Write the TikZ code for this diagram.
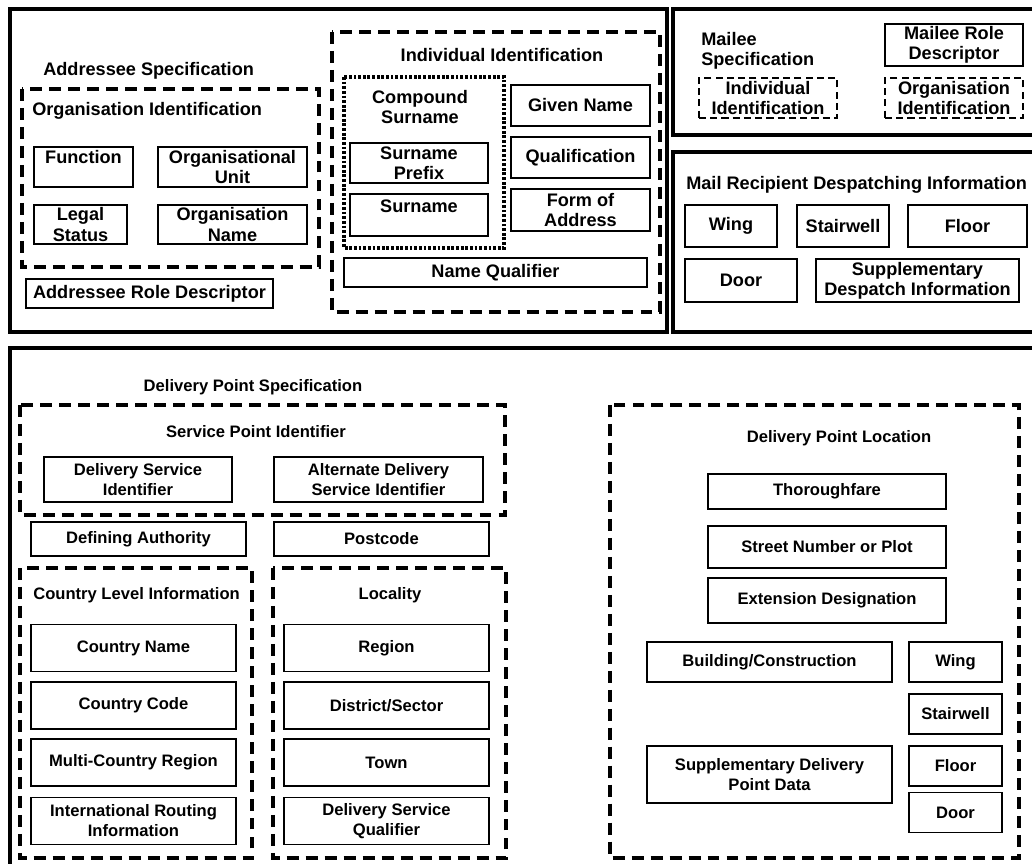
\documentclass[tikz,border=0pt]{standalone}
\usepackage{fontspec}
\setmainfont{Liberation Sans}
\newcommand\topfont{\fontsize{12.9}{14.4}\selectfont\bfseries}
\newcommand\lowfont{\fontsize{11.8}{14.2}\selectfont\bfseries}

\begin{document}
\begin{tikzpicture}[x=0.025cm,y=-0.025cm,
  frame/.style={draw=black,line width=2.8pt},
  grp/.style={draw=black,line width=2.3pt,dash pattern=on 8.5pt off 5pt},
  sgrp/.style={draw=black,line width=1.2pt,dash pattern=on 5pt off 3pt},
  dotgrp/.style={draw=black,line width=2.2pt,dash pattern=on 2pt off 1.3pt},
  box/.style={draw=black,line width=0.8pt,align=center,inner sep=1pt},
  sz/.style 2 args={minimum width=#1*0.25mm,minimum height=#2*0.25mm},
  raised/.style={text depth=#1},
  ttl/.style={inner sep=0pt,align=center}]
\useasboundingbox (0,0) rectangle (1032,863);
\clip (0,0) rectangle (1032,863);

% outer frames
\draw[frame] (10,9) rectangle (667,332);
\draw[frame] (673,9) rectangle (1040,135);
\draw[frame] (673,152) rectangle (1040,332);
\draw[frame] (10,348) rectangle (1040,870);

\begin{scope}[font=\topfont]
% addressee
\node[ttl,anchor=west] (adsp) at (43,71) {Addressee Specification};
\draw[grp] (22,89) rectangle (319,267);
\node[ttl,anchor=west] (orgid) at (32,111) {Organisation Identification};
\node[box,sz={99}{40},raised=14pt] (func) at (83.5,167) {Function};
\node[box,sz={149}{40}] (ounit) at (232.5,167) {Organisational\\Unit};
\node[box,sz={93}{39}] (legal) at (80.5,224.5) {Legal\\Status};
\node[box,sz={149}{39}] (oname) at (232.5,224.5) {Organisation\\Name};
\node[box,sz={247}{29}] (adrole) at (149.5,293.5) {Addressee Role Descriptor};

% individual
\draw[grp] (332,32) rectangle (660,312);
\node[ttl] (indid) at (502,55) {Individual Identification};
\draw[dotgrp] (344,77) rectangle (504,248);
\node[ttl] (csur) at (420,107) {Compound\\Surname};
\node[box,sz={138}{40}] (spre) at (419,163) {Surname\\Prefix};
\node[box,sz={138}{42},raised=12.8pt] (sur) at (419,215) {Surname};
\node[box,sz={139}{41}] (given) at (580.5,105.5) {Given Name};
\node[box,sz={139}{41}] (qual) at (580.5,157.5) {Qualification};
\node[box,sz={139}{42}] (form) at (580.5,210) {Form of\\Address};
\node[box,sz={303}{29}] (nqual) at (495.5,272.5) {Name Qualifier};

% mailee
\node[ttl,align=left,anchor=west] (mail) at (701,50.5) {Mailee\\Specification};
\node[box,sz={138}{42}] (mrole) at (954,45) {Mailee Role\\Descriptor};
\node[box,sgrp,sz={138}{40}] (mind) at (768,98) {Individual\\Identification};
\node[box,sgrp,sz={138}{40}] (morg) at (954,98) {Organisation\\Identification};

% despatching
\node[ttl,anchor=west] (desp) at (686,185) {Mail Recipient Despatching Information};
\node[box,sz={92}{42}] (dwing) at (731,226) {Wing};
\node[box,sz={92}{42}] (dstair) at (843,226) {Stairwell};
\node[box,sz={119}{42}] (dfloor) at (967.5,226) {Floor};
\node[box,sz={112}{43}] (ddoor) at (741,280.5) {Door};
\node[box,sz={203}{43}] (dsupp) at (917.5,280.5) {Supplementary\\Despatch Information};
\end{scope}

\begin{scope}[font=\lowfont]
% delivery point
\node[ttl] (dpsp) at (253,387) {Delivery Point Specification};
\draw[grp] (20,405) rectangle (505,515);
\node[ttl] (spid) at (256,432) {Service Point Identifier};
\node[box,sz={188}{45}] (dsid) at (138,479.5) {Delivery Service\\Identifier};
\node[box,sz={209}{45}] (adsid) at (378.5,479.5) {Alternate Delivery\\Service Identifier};
\node[box,sz={215}{34}] (defa) at (138.5,539) {Defining Authority};
\node[box,sz={215}{34}] (pcode) at (381.5,539) {Postcode};

\draw[grp] (20,568) rectangle (252,858);
\node[ttl,anchor=west] (cli) at (33,595) {Country Level Information};
\foreach \y/\n/\t in {648/cn/Country Name,705.5/cc/Country Code,762.5/mcr/Multi-Country Region,821/irt/{International Routing\\Information}}
  \node[box,sz={205}{47}] (\n) at (133.5,\y) {\t};

\draw[grp] (273,568) rectangle (506,858);
\node[ttl] (loc) at (390,595) {Locality};
\foreach \y/\n/\t in {648/reg/Region,705.5/dis/{District/Sector},762.5/town/Town,821/dsq/{Delivery Service\\Qualifier}}
  \node[box,sz={205}{47}] (\n) at (386.5,\y) {\t};

% location
\draw[grp] (610,405) rectangle (1019,858);
\node[ttl] (dpl) at (839,438) {Delivery Point Location};
\node[box,sz={238}{35}] (thor) at (827,491.5) {Thoroughfare};
\node[box,sz={238}{42}] (street) at (827,547) {Street Number or Plot};
\node[box,sz={238}{45}] (ext) at (827,600.5) {Extension Designation};
\node[box,sz={245}{40}] (build) at (769.5,662) {Building/Construction};
\node[box,sz={245}{57}] (sdpd) at (769.5,774.5) {Supplementary Delivery\\Point Data};
\foreach \y/\n/\t in {662/lwing/Wing,714/lstair/Stairwell,766/lfloor/Floor,812.5/ldoor/Door}
  \node[box,sz={93}{40}] (\n) at (955.5,\y) {\t};
\end{scope}
\end{tikzpicture}
\end{document}
